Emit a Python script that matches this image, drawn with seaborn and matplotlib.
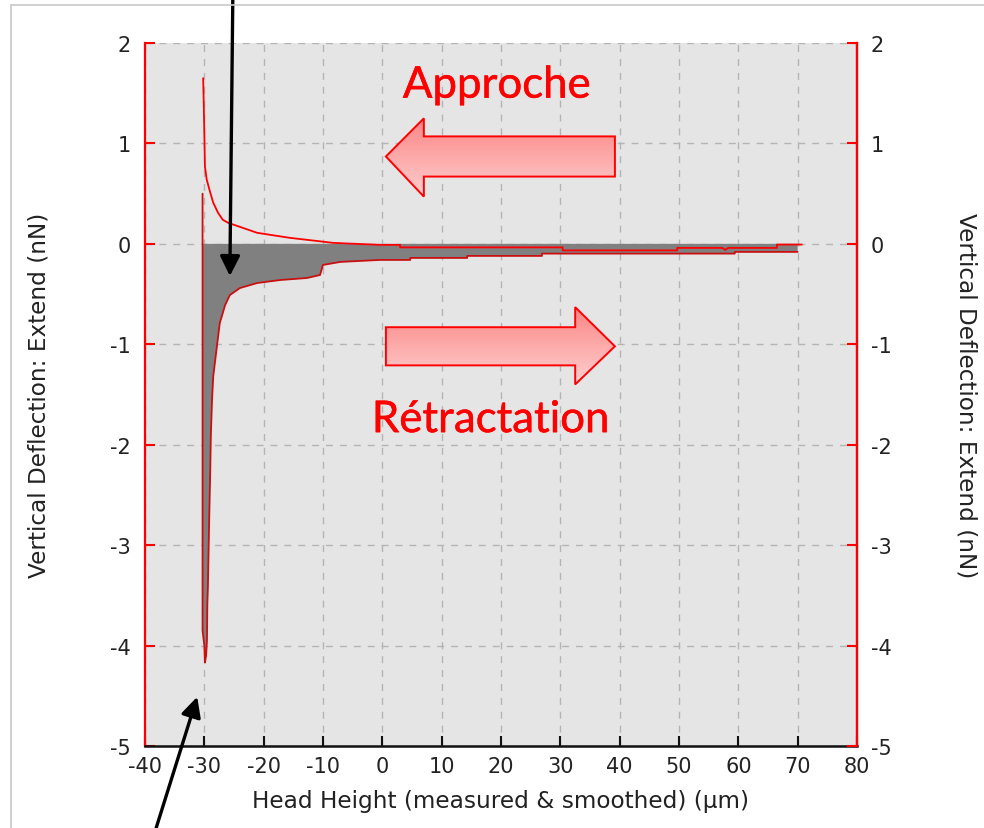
import numpy as np
import matplotlib
matplotlib.use("Agg")
import matplotlib.pyplot as plt
import seaborn as sns
import matplotlib.patheffects as pe
from matplotlib.patches import Polygon
from matplotlib.lines import Line2D
from matplotlib.colors import LinearSegmentedColormap

# courbe d'approche (extend)
approche_x = [-30.2, -30.1, -30.0, -29.9, -29.6, -29.0, -28.5, -27.7, -26.9, -26.0, -21.1,
              -15.6, -8.3, -0.4, 3.0, 3.0, 30.4, 30.4, 49.7, 49.7, 57.3, 57.8, 58.3,
              66.5, 66.5, 70.7]
approche_y = [1.65, 1.40, 1.10, 0.77, 0.64, 0.51, 0.41, 0.31, 0.24, 0.21, 0.11,
              0.06, 0.01, -0.01, -0.01, -0.035, -0.035, -0.065, -0.065, -0.04, -0.04, -0.06, -0.04,
              -0.04, -0.007, -0.007]

# courbe de rétractation
retract_x = [-30.3, -30.3, -30.0, -29.9, -29.7, -29.55, -29.5, -29.4, -29.2, -29.0, -28.9,
             -28.7, -28.5, -27.9, -27.4, -26.5, -25.7, -24.0, -21.1, -17.2, -12.7, -10.5,
             -10.0, -7.1, -0.4, 4.7, 4.7, 14.3, 14.3, 26.9, 26.9, 59.4, 59.4, 70.0]
retract_y = [0.50, -3.85, -4.00, -4.17, -4.10, -3.94, -3.60, -3.42, -2.80, -2.25, -1.90,
             -1.55, -1.32, -1.03, -0.79, -0.61, -0.51, -0.44, -0.39, -0.36, -0.34, -0.31,
             -0.21, -0.18, -0.16, -0.16, -0.14, -0.14, -0.12, -0.12, -0.097, -0.097, -0.08, -0.08]

x_ticks = list(range(-40, 81, 10))
y_ticks = list(range(-5, 3))
x_label = "Head Height (measured & smoothed) (µm)"
y_label = "Vertical Deflection: Extend (nN)"

sns.set_style("ticks", {"axes.facecolor": "#e5e5e5",
                        "grid.color": "#b4b4b4",
                        "grid.linestyle": (0, (5, 5))})
plt.rcParams['font.family'] = ['DejaVu Sans']
plt.rcParams['axes.unicode_minus'] = False

fig = plt.figure(figsize=(9.84, 8.29), dpi=100)
ax = fig.add_axes([145 / 984, 1 - 747 / 829, 712 / 984, 703 / 829])

# zone grise sous la rétractation
ax.fill(retract_x + [70.0, -30.3], retract_y + [0, 0], color="#808080", lw=0, zorder=2)

sns.lineplot(x=approche_x, y=approche_y, sort=False, estimator=None, ax=ax,
             color="#ff0000", lw=1.3, zorder=4)
sns.lineplot(x=retract_x, y=retract_y, sort=False, estimator=None, ax=ax,
             color="#c81010", lw=1.3, zorder=3)

ax.set_xlim(-40, 80)
ax.set_ylim(-5, 2)
ax.set_xticks(x_ticks)
ax.set_yticks(y_ticks)
ax.grid(True, lw=1.0)
ax.set_axisbelow(True)

for s in ["left", "right"]:
    ax.spines[s].set_color("#ff0000")
    ax.spines[s].set_linewidth(1.6)
ax.spines["top"].set_visible(False)
ax.spines["bottom"].set_color("#111111")
ax.spines["bottom"].set_linewidth(1.8)

ax.tick_params(axis="x", direction="in", length=7, width=1.5, color="#111111",
               labelcolor="#222222", labelsize=15, pad=7)
ax.tick_params(axis="y", direction="in", length=7, width=1.5, color="#ff0000",
               labelcolor="#222222", labelsize=15, pad=10)
ax.set_xlabel(x_label, fontsize=16.7, color="#222222")
ax.set_ylabel(y_label, fontsize=16.7, color="#222222")
ax.xaxis.set_label_coords(0.5, -0.061)
ax.yaxis.set_label_coords(-0.1334, 0.5)

ax2 = ax.twinx()
ax2.set_ylim(-5, 2)
ax2.set_yticks(y_ticks)
for s in ["left", "top", "bottom"]:
    ax2.spines[s].set_visible(False)
ax2.spines["right"].set_color("#ff0000")
ax2.spines["right"].set_linewidth(1.6)
ax2.tick_params(axis="y", direction="in", length=7, width=1.5, color="#ff0000",
                labelcolor="#222222", labelsize=15, pad=10)
ax2.set_ylabel(y_label, fontsize=16.7, color="#222222", rotation=270, va="bottom")
ax2.yaxis.set_label_coords(1.137, 0.5)


# grosses flèches roses avec dégradé
pink = LinearSegmentedColormap.from_list("pink", ["#fb8585", "#ffcfcf"])
grad = np.linspace(0, 1, 256).reshape(-1, 1)


def block_arrow(verts):
    poly = Polygon(verts, closed=True, facecolor="none", edgecolor="#ff0000", lw=1.4, zorder=6)
    ax.add_patch(poly)
    xs = [v[0] for v in verts]
    ys = [v[1] for v in verts]
    im = ax.imshow(grad, cmap=pink, aspect="auto", origin="upper",
                   extent=(min(xs), max(xs), min(ys), max(ys)), zorder=5)
    im.set_clip_path(poly)


block_arrow([(39.2, 1.07), (7.0, 1.07), (7.0, 1.25), (0.6, 0.87),
             (7.0, 0.47), (7.0, 0.67), (39.2, 0.67)])
block_arrow([(0.6, -0.83), (32.5, -0.83), (32.5, -0.63), (39.2, -1.02),
             (32.5, -1.40), (32.5, -1.21), (0.6, -1.21)])

thick = [pe.withStroke(linewidth=0.35, foreground="#ff0000")]
ax.text(19.3, 1.58, "Approche", color="#ff0000", fontsize=31.5, family="Lato",
        ha="center", va="center", zorder=7, path_effects=thick)
ax.text(18.3, -1.75, "Rétractation", color="#ff0000", fontsize=31.5, family="Lato",
        ha="center", va="center", zorder=7, path_effects=thick)

# flèches noires
arrow_kw = dict(arrowstyle="-|>,head_length=0.6,head_width=0.3", color="black",
                lw=2.4, mutation_scale=20, shrinkA=0, shrinkB=0)
ax.annotate("", xy=(-25.7, -0.32), xytext=(-25.2, 2.45),
            arrowprops=arrow_kw, annotation_clip=False, zorder=8)
ax.annotate("", xy=(-31.2, -4.51), xytext=(-38.3, -5.85),
            arrowprops=arrow_kw, annotation_clip=False, zorder=8)

ax.set_xlim(-40, 80)
ax.set_ylim(-5, 2)

# cadre fin de la capture
fig.add_artist(Line2D([11 / 984, 1], [1 - 6 / 829, 1 - 6 / 829], color="#c8c8c8", lw=1.2))
fig.add_artist(Line2D([11 / 984, 11 / 984], [0, 1 - 6 / 829], color="#c8c8c8", lw=1.2))

fig.savefig("out.png", dpi=100)
